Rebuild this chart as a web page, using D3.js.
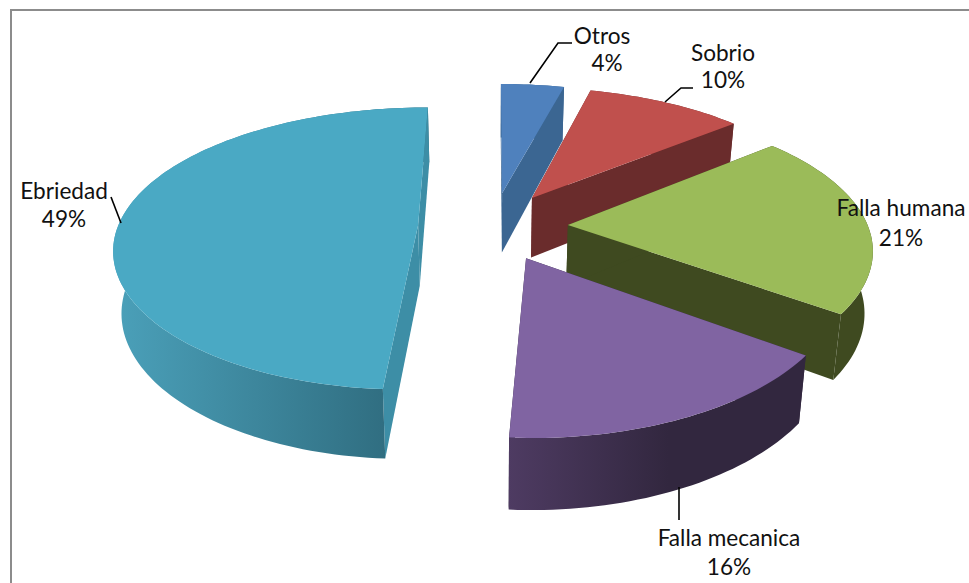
<!DOCTYPE html>
<html lang="es">
<head>
    <meta charset="UTF-8">
    <title>Causas</title>
    <script src="https://cdn.jsdelivr.net/npm/d3@7"></script>
    <style>
        html, body { margin: 0; padding: 0; background: #fff; overflow: hidden; }
        text { font-family: Lato, "Open Sans", sans-serif; font-size: 22.6px; fill: #111; text-anchor: middle; }
    </style>
</head>
<body>
    <script>
        // datos
        var categories = ["Otros", "Sobrio", "Falla humana", "Falla mecanica", "Ebriedad"];
        var values = [4, 10, 21, 16, 49];

        // estilos por porcion
        var topColors = ["#4f81bd", "#c0504d", "#9bbb59", "#8064a2", "#4aa9c4"];
        var sideColors = ["#3b6692", "#6a2c2c", "#3f4a20", "#332842", "#3d8ea6"];
        var wallFrom = ["#3b6692", "#6a2c2c", "#3f4a20", "#4e3b62", "#4a9fb8"];
        var wallTo = ["#3b6692", "#6a2c2c", "#3f4a20", "#32273f", "#2c6678"];
        var wallStop = [100, 100, 100, 55, 100];

        // posicion de etiquetas y lineas guia
        var labelX = [602, 723, 901, 729, 64];
        var valueX = [607, 723, 901, 729, 64];
        var labelY = [[44, 71], [61, 88], [216, 246], [546, 575], [199, 227]];
        var leaders = [
            [[530, 83], [558, 43], [572, 43]],
            [[665, 102], [681, 88], [693, 88]],
            null,
            [[679, 487], [679, 520]],
            [[121, 223], [111, 197]]
        ];

        var width = 969, height = 583;
        var cx = 493, cy = 226;
        var rx = 300, ry = 137.5;      // radios sobre el plano
        var perspX = 0.15, perspY = 0.167;  // perspectiva
        var explode = 0.25;            // separacion de porciones
        var depth = 61, shrink = 0.022;

        // plano (u,v,z) -> pantalla
        function project(u, v, z) {
            var wx = 1 / (1 - perspX * v);
            var wy = 1 / (1 - perspY * v);
            var s = 1 - shrink * z;
            return [cx + rx * u * wx * s, cy + ry * v * wy * s + depth * wy * z];
        }

        var svg = d3.select("body").append("svg")
            .attr("width", width)
            .attr("height", height);

        var defs = svg.append("defs");

        // marco
        svg.append("path")
            .attr("d", d3.line()([[11, height], [11, 10], [width, 10]]))
            .attr("fill", "none")
            .attr("stroke", "#8c8c8c")
            .attr("stroke-width", 2);

        var slices = d3.pie().sort(null).startAngle(0).endAngle(2 * Math.PI)(values);
        var line = d3.line();

        slices.forEach(function(d, i) {
            var mid = (d.startAngle + d.endAngle) / 2;
            var ox = explode * Math.sin(mid), oy = -explode * Math.cos(mid);

            function rim(t, z) {
                return project(ox + Math.sin(t), oy - Math.cos(t), z);
            }
            var n = Math.ceil((d.endAngle - d.startAngle) * 40);
            var ts = d3.range(n + 1).map(function(k) {
                return d.startAngle + (d.endAngle - d.startAngle) * k / n;
            });
            var apexTop = project(ox, oy, 0), apexBot = project(ox, oy, 1);
            var topArc = ts.map(function(t) { return rim(t, 0); });
            var botArc = ts.map(function(t) { return rim(t, 1); });

            var g = svg.append("g").attr("class", "slice");

            function radialWall(t) {
                g.append("path")
                    .attr("d", line([apexTop, rim(t, 0), rim(t, 1), apexBot]) + "Z")
                    .attr("fill", sideColors[i]);
            }

            // paredes que van hacia el frente: antes de la exterior
            [d.startAngle, d.endAngle].filter(function(t) { return Math.cos(t) < 0; }).forEach(radialWall);

            // pared exterior con degradado
            var gradId = "wall" + i;
            var grad = defs.append("linearGradient")
                .attr("id", gradId)
                .attr("gradientUnits", "userSpaceOnUse")
                .attr("x1", d3.min(botArc, function(p) { return p[0]; }))
                .attr("x2", d3.max(botArc, function(p) { return p[0]; }))
                .attr("y1", 0).attr("y2", 0);
            grad.append("stop").attr("offset", "0%").attr("stop-color", wallFrom[i]);
            grad.append("stop").attr("offset", wallStop[i] + "%").attr("stop-color", wallTo[i]);

            g.append("path")
                .attr("d", line(topArc.concat(botArc.slice().reverse())) + "Z")
                .attr("fill", "url(#" + gradId + ")");

            // paredes hacia el fondo: encima de la exterior
            [d.startAngle, d.endAngle].filter(function(t) { return Math.cos(t) >= 0; }).forEach(radialWall);

            // cara superior
            g.append("path")
                .attr("d", line([apexTop].concat(topArc)) + "Z")
                .attr("fill", topColors[i]);
        });

        // lineas guia
        leaders.forEach(function(pts) {
            if (!pts) return;
            svg.append("path")
                .attr("d", line(pts))
                .attr("fill", "none")
                .attr("stroke", "#000")
                .attr("stroke-width", 1.6);
        });

        // etiquetas
        categories.forEach(function(name, i) {
            svg.append("text").attr("x", labelX[i]).attr("y", labelY[i][0]).text(name);
            svg.append("text").attr("x", valueX[i]).attr("y", labelY[i][1]).text(values[i] + "%");
        });
    </script>
</body>
</html>
